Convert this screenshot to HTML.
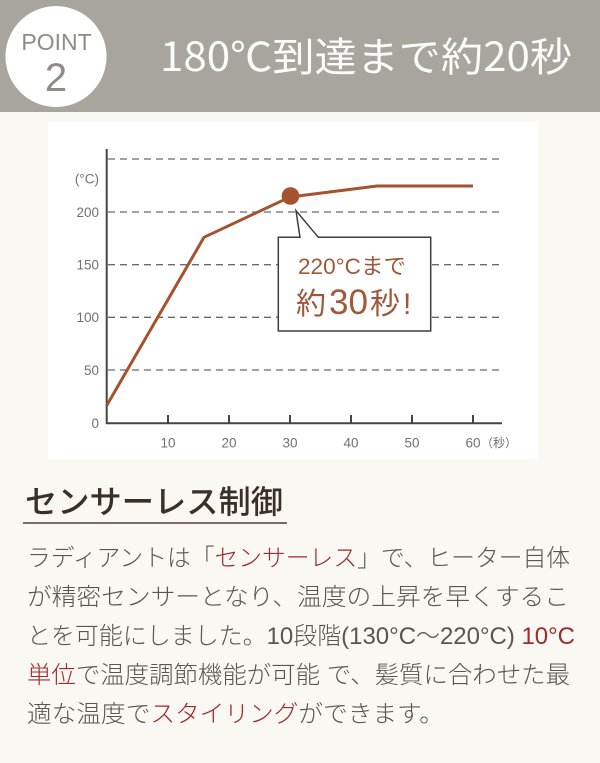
<!DOCTYPE html>
<html>
<head>
<meta charset="utf-8">
<style>
  html,body{margin:0;padding:0;background:#f9f8f3;}
  svg{display:block;}
  .jp{font-family:"Liberation Sans","Noto Sans CJK JP",sans-serif;}
</style>
</head>
<body>
<svg width="600" height="763" viewBox="0 0 600 763" xmlns="http://www.w3.org/2000/svg">
  <!-- background -->
  <rect x="0" y="0" width="600" height="763" fill="#f9f8f3"/>
  <!-- header band -->
  <rect x="0" y="0" width="600" height="112" fill="#a8a49e"/>
  <circle cx="56" cy="56.5" r="50.5" fill="#ffffff"/>
  <text x="56.5" y="50" text-anchor="middle" font-family="Liberation Sans, sans-serif" font-size="23" fill="#8e8c88">POINT</text>
  <text x="56" y="91" text-anchor="middle" font-family="Liberation Sans, sans-serif" font-size="40" fill="#8e8c88">2</text>
  <text x="160" y="71" font-size="40" fill="#fbfbf9" textLength="412" lengthAdjust="spacingAndGlyphs" style="font-family:'Noto Sans CJK JP','Liberation Sans',sans-serif;">180℃到達まで約20秒</text>

  <!-- chart panel -->
  <rect x="48" y="122" width="490" height="337" fill="#ffffff"/>

  <!-- gridlines -->
  <g stroke="#6a6a6a" stroke-width="1.3" stroke-dasharray="7,5" fill="none">
    <line x1="108" y1="159" x2="502" y2="159"/>
    <line x1="108" y1="212" x2="502" y2="212"/>
    <line x1="108" y1="264.7" x2="502" y2="264.7"/>
    <line x1="108" y1="317.3" x2="502" y2="317.3"/>
    <line x1="108" y1="370" x2="502" y2="370"/>
  </g>
  <!-- axes -->
  <g stroke="#444444" stroke-width="2" fill="none">
    <line x1="106.7" y1="149" x2="106.7" y2="424"/>
    <line x1="106" y1="423.3" x2="502" y2="423.3"/>
    <line x1="168" y1="415" x2="168" y2="423"/>
    <line x1="229" y1="415" x2="229" y2="423"/>
    <line x1="290" y1="415" x2="290" y2="423"/>
    <line x1="351" y1="415" x2="351" y2="423"/>
    <line x1="412" y1="415" x2="412" y2="423"/>
    <line x1="473" y1="415" x2="473" y2="423"/>
  </g>
  <!-- y labels -->
  <g font-family="Liberation Sans, sans-serif" font-size="13.5" fill="#707070" text-anchor="end">
    <text x="99" y="183.5">(°C)</text>
    <text x="99" y="217">200</text>
    <text x="99" y="269.5">150</text>
    <text x="99" y="322">100</text>
    <text x="99" y="375">50</text>
    <text x="99" y="428">0</text>
  </g>
  <!-- x labels -->
  <g font-family="Liberation Sans, sans-serif" font-size="13.5" fill="#707070" text-anchor="middle">
    <text x="168" y="447.5">10</text>
    <text x="229" y="447.5">20</text>
    <text x="290" y="447.5">30</text>
    <text x="351" y="447.5">40</text>
    <text x="412" y="447.5">50</text>
    <text x="473" y="447.5">60</text>
  </g>
  <text x="481" y="447" class="jp" font-size="12" fill="#707070">（秒）</text>

  <!-- series -->
  <polyline points="106.7,405.5 204,237.3 290,197 377,186 473,186" fill="none" stroke="#a5532f" stroke-width="3" stroke-linejoin="round"/>
  <circle cx="290.5" cy="196" r="8.8" fill="#a5532f"/>

  <!-- callout -->
  <path d="M278.3,237.3 L300,237.3 L296,210.7 L318.3,237.3 L430.7,237.3 L430.7,331 L278.3,331 Z" fill="#ffffff" stroke="#3e3e3e" stroke-width="1.5" stroke-linejoin="miter"/>
  <text x="298" y="274" class="jp" font-size="22" fill="#a0583a" textLength="108" lengthAdjust="spacingAndGlyphs">220°Cまで</text>
  <text x="296" y="314" class="jp" fill="#a0583a"><tspan font-size="30">約</tspan><tspan font-size="35" dx="3">30</tspan><tspan font-size="30" dx="2">秒</tspan><tspan font-size="30" dx="3">!</tspan></text>

  <!-- heading -->
  <text x="25" y="513" class="jp" font-size="32" font-weight="500" fill="#3b2f2a" textLength="258" lengthAdjust="spacingAndGlyphs">センサーレス制御</text>
  <line x1="23" y1="523" x2="287" y2="523" stroke="#4a3c36" stroke-width="1.5"/>

  <!-- body text -->
  <g class="jp" font-size="24" font-weight="300" fill="#5b5550">
    <text x="27" y="566" textLength="543" lengthAdjust="spacingAndGlyphs">ラディアントは「<tspan fill="#a3282b">センサーレス</tspan>」で、ヒーター自体</text>
    <text x="27" y="605" textLength="542" lengthAdjust="spacingAndGlyphs">が精密センサーとなり、温度の上昇を早くするこ</text>
    <text x="27" y="644" textLength="548" lengthAdjust="spacingAndGlyphs">とを可能にしました。10段階(130°C〜220°C) <tspan fill="#a3282b">10°C</tspan></text>
    <text x="27" y="683" textLength="543" lengthAdjust="spacingAndGlyphs"><tspan fill="#a3282b">単位</tspan>で温度調節機能が可能 で、髪質に合わせた最</text>
    <text x="27" y="722" textLength="417" lengthAdjust="spacingAndGlyphs">適な温度で<tspan fill="#a3282b">スタイリング</tspan>ができます。</text>
  </g>
</svg>
</body>
</html>
